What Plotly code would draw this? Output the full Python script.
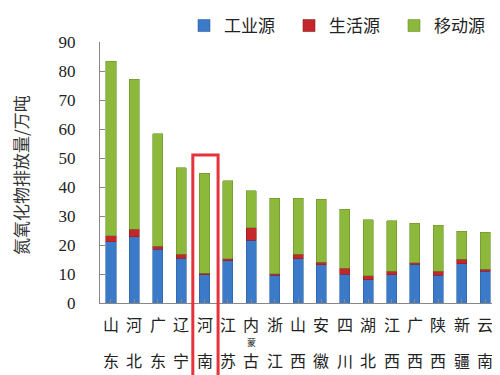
import plotly.graph_objects as go

# ---- data ----
categories = ["山东", "河北", "广东", "辽宁", "河南", "江苏", "内蒙古", "浙江", "山西",
              "安徽", "四川", "湖北", "江西", "广西", "陕西", "新疆", "云南", "上海"]
industry = [21.2, 22.9, 18.6, 15.5, 9.7, 14.5, 21.7, 9.6, 15.3,
            13.2, 9.9, 8.0, 9.7, 13.4, 9.6, 13.6, 11.0, 10.5]
domestic = [2.0, 2.5, 1.0, 1.3, 0.6, 0.8, 4.3, 0.5, 1.5,
            0.8, 2.0, 1.4, 1.2, 0.5, 1.3, 1.5, 0.7, 1.0]
mobile = [60.1, 51.8, 38.8, 29.9, 34.4, 26.8, 12.7, 26.0, 19.3,
          21.8, 20.4, 19.3, 17.5, 13.6, 15.9, 9.7, 12.7, 11.1]
series_names = ["工业源", "生活源", "移动源"]
y_ticks = [0, 10, 20, 30, 40, 50, 60, 70, 80, 90]
y_title = "氮氧化物排放量/万吨"
highlight = "河南"

# ---- style ----
colors = ["#3b79c9", "#c3272c", "#8cb83b"]
line_colors = ["#2f5f9e", "#8e1d20", "#6d8f2c"]
SERIF = "Liberation Serif, Noto Sans CJK SC, serif"
CJK = "Noto Sans CJK SC, Liberation Serif, serif"

W, H = 500, 375
ML, MR, MT, MB = 92, 0, 34, 80
PW = W - ML - MR
PH = H - MT - MB
XR = [-0.47, 16.98]


def xpaper(v):
    return (v - XR[0]) / (XR[1] - XR[0])


def ypaper_px(px):
    # pixel (from top of figure) -> paper y
    return (H - MB - px) / PH


x = list(range(len(categories)))
fig = go.Figure()
for name, vals, c, lc in zip(series_names, [industry, domestic, mobile], colors, line_colors):
    fig.add_trace(go.Bar(
        x=x, y=vals, name=name,
        marker=dict(color=c, line=dict(color=lc, width=0.6)),
    ))

annotations = []
for i, cat in enumerate(categories):
    chars = list(cat)
    xp = xpaper(i)
    annotations.append(dict(x=xp, y=ypaper_px(316), xref="paper", yref="paper",
                            text=chars[0], showarrow=False,
                            font=dict(family=CJK, size=16, color="#222"),
                            xanchor="center", yanchor="middle"))
    annotations.append(dict(x=xp, y=ypaper_px(352), xref="paper", yref="paper",
                            text=chars[-1], showarrow=False,
                            font=dict(family=CJK, size=16, color="#222"),
                            xanchor="center", yanchor="middle"))
    for ch in chars[1:-1]:
        annotations.append(dict(x=xp, y=ypaper_px(334), xref="paper", yref="paper",
                                text=ch, showarrow=False,
                                font=dict(family=CJK, size=9, color="#222"),
                                xanchor="center", yanchor="middle"))

annotations.append(dict(x=(12 - ML) / PW, y=ypaper_px(167), xref="paper", yref="paper",
                        text=y_title, textangle=-90, showarrow=False,
                        font=dict(family=CJK, size=17, color="#333"),
                        xanchor="center", yanchor="middle"))

hi = categories.index(highlight)
shapes = [dict(type="rect", xref="paper", yref="paper",
               x0=xpaper(hi - 0.5), x1=xpaper(hi + 0.58),
               y0=ypaper_px(370), y1=ypaper_px(147),
               line=dict(color="#e5323c", width=3), fillcolor="rgba(0,0,0,0)",
               layer="above")]

fig.update_layout(
    width=W, height=H,
    margin=dict(l=ML, r=MR, t=MT, b=MB, pad=0, autoexpand=False),
    barmode="stack",
    bargap=0.57,
    plot_bgcolor="white", paper_bgcolor="white",
    font=dict(family=SERIF, size=17, color="#222"),
    showlegend=True,
    legend=dict(orientation="h", xref="container", yref="container",
                x=176 / W, y=1 - 18 / H,
                xanchor="left", yanchor="middle",
                font=dict(family=CJK, size=17, color="#222"),
                entrywidth=60, entrywidthmode="pixels",
                itemwidth=30, traceorder="normal",
                bgcolor="rgba(0,0,0,0)"),
    xaxis=dict(range=XR, showticklabels=False, tickmode="array", tickvals=x,
               tickson="boundaries", ticks="inside", ticklen=4, tickcolor="#888",
               showline=True, linecolor="#888", linewidth=1, showgrid=False,
               zeroline=False, fixedrange=True, automargin=False),
    yaxis=dict(range=[0, 90], tickmode="array", tickvals=y_ticks,
               ticktext=[str(v) for v in y_ticks],
               ticks="inside", ticklen=5, tickcolor="#888",
               tickfont=dict(family=SERIF, size=17, color="#222"),
               ticklabelstandoff=20,
               showline=True, linecolor="#888", linewidth=1, showgrid=False,
               zeroline=False, fixedrange=True, automargin=False),
    annotations=annotations,
    shapes=shapes,
)

fig.write_html("out.html")
